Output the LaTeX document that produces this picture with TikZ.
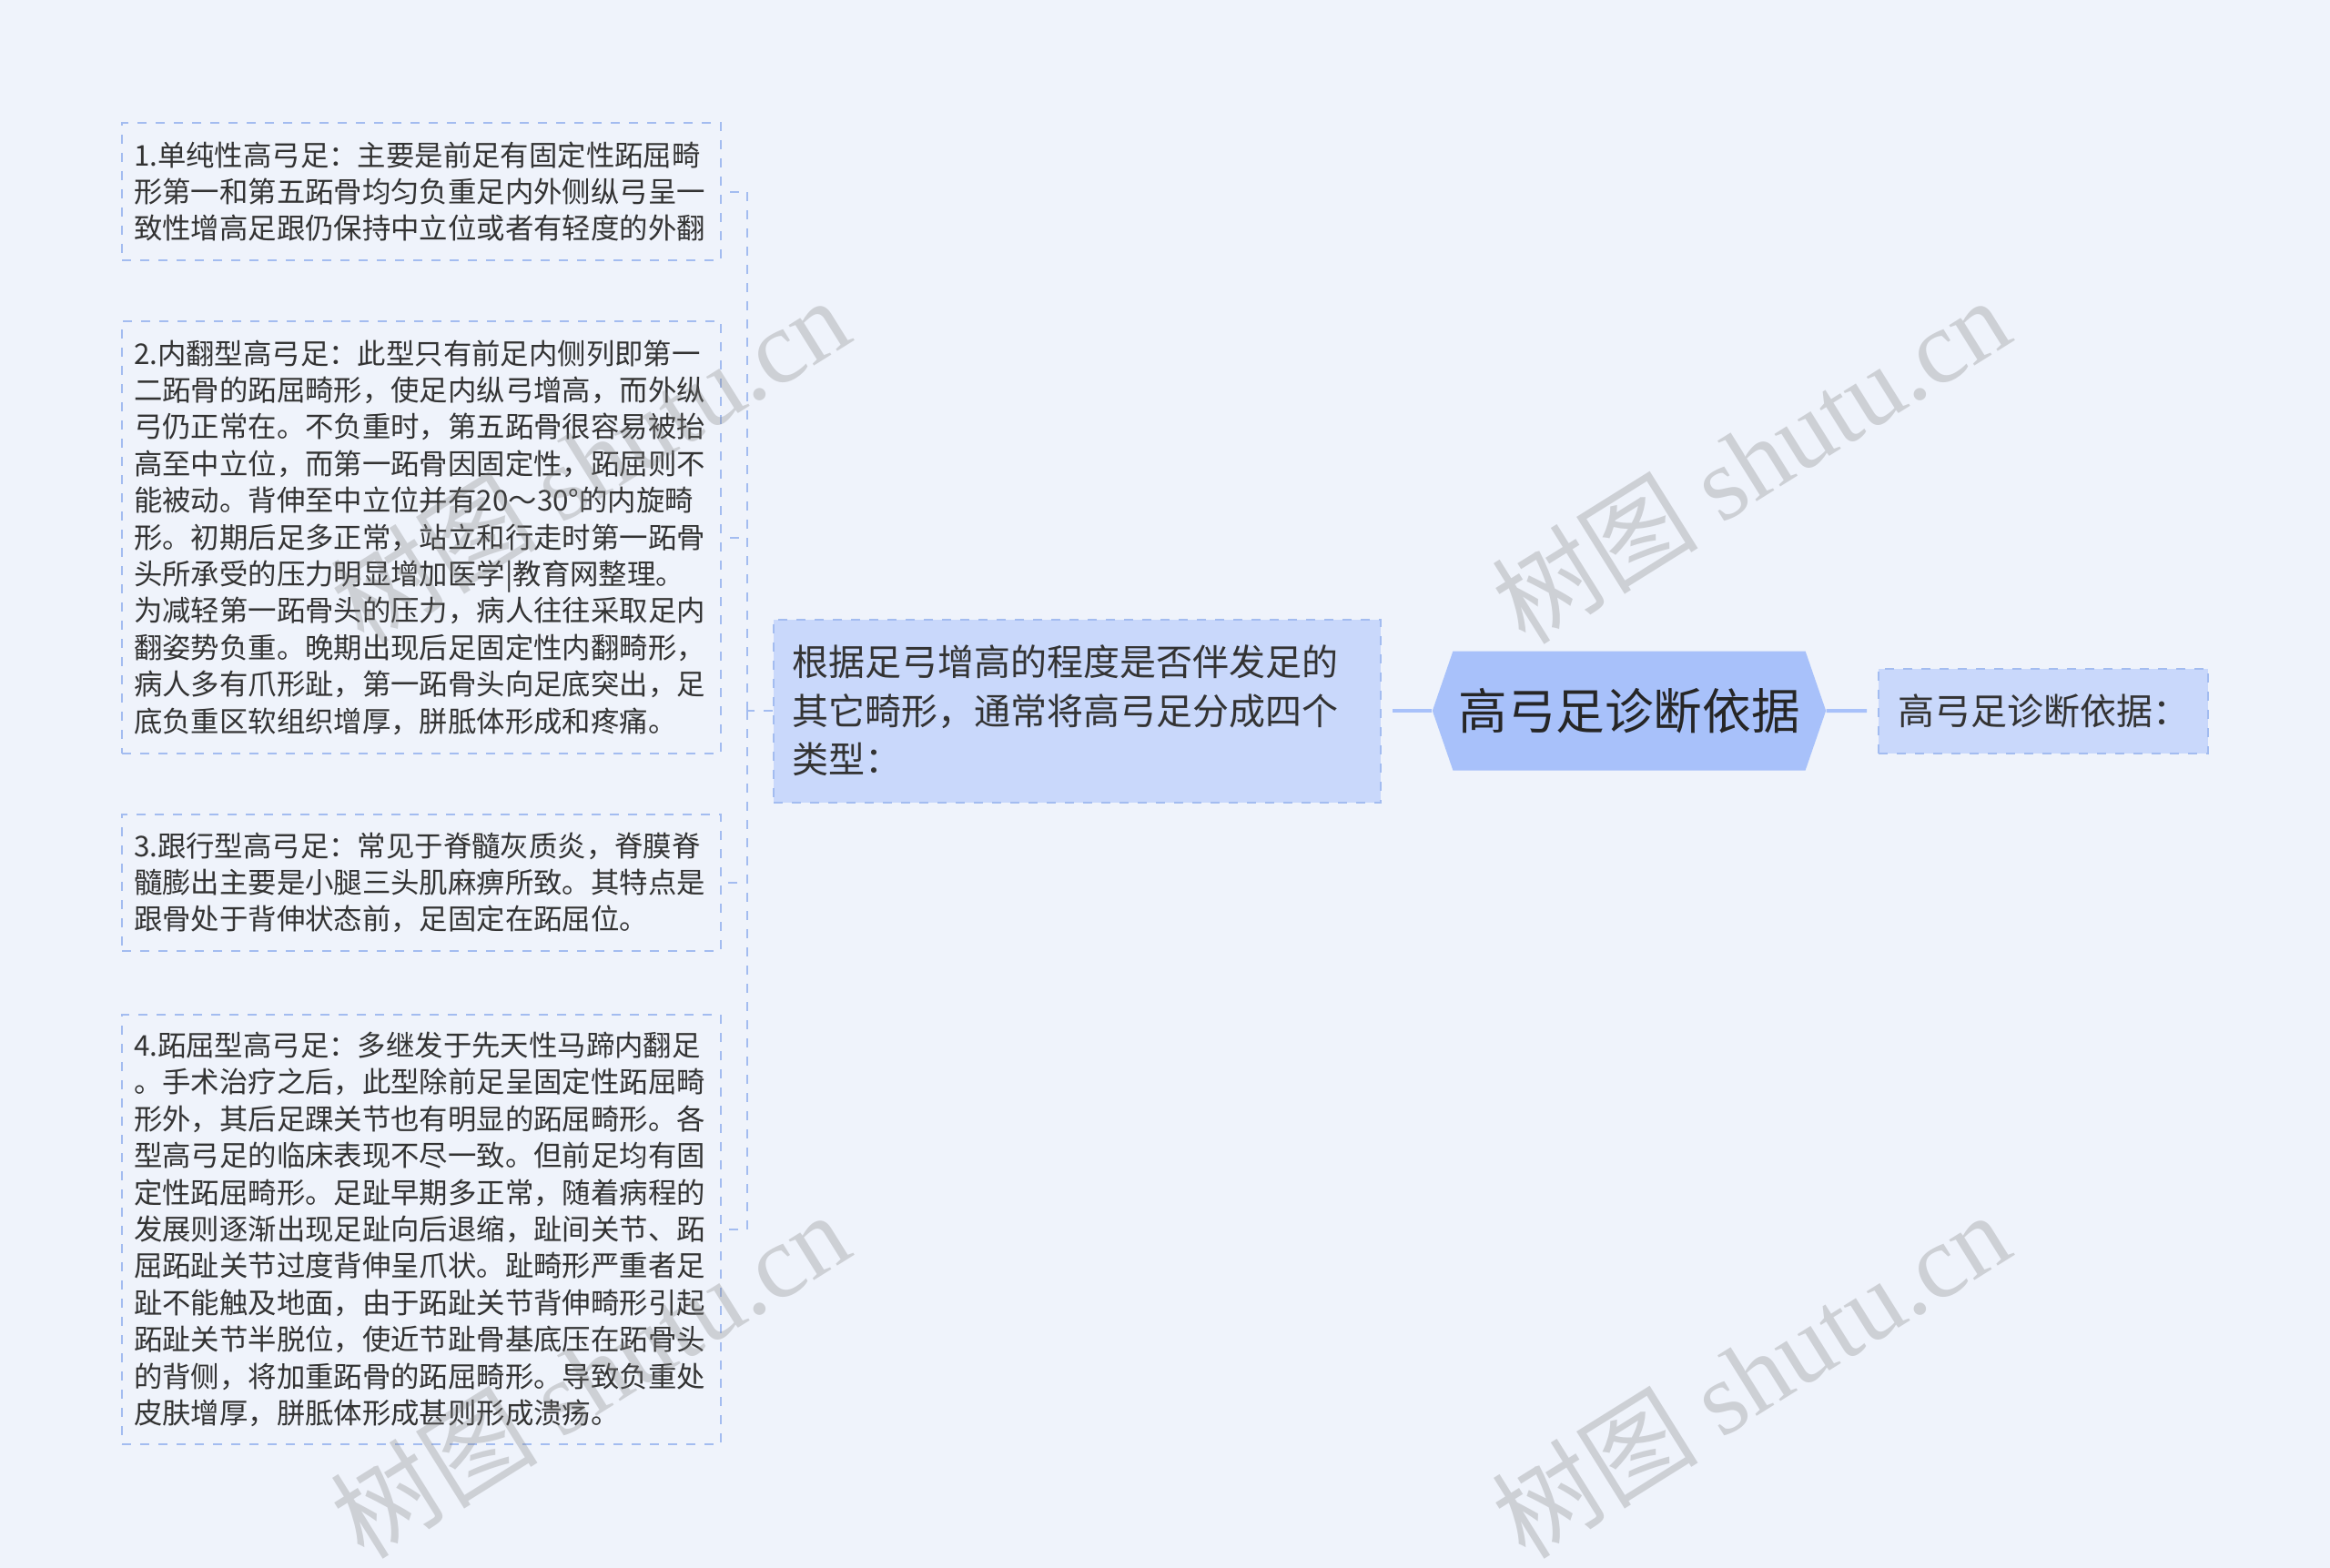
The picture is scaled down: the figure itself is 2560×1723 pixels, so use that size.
\documentclass[tikz,border=0pt]{standalone}
\usepackage{fontspec}
\setmainfont{Noto Sans CJK SC}
\newfontfamily\wmfont{Liberation Serif}
\usetikzlibrary{shapes.symbols,positioning}
\definecolor{bgblue}{HTML}{EFF3FB}
\definecolor{rootblue}{HTML}{A8C1FA}
\definecolor{boxblue}{HTML}{C9D8FB}
\definecolor{lineblue}{HTML}{A3BCF0}
\definecolor{textgray}{HTML}{333333}

\begin{document}
\begin{tikzpicture}[x=0.5pt, y=-0.5pt,
        leaf/.style={draw=lineblue, line width=1pt, dash pattern=on 5pt off 5pt, text=textgray, align=left,
            text width=316pt, inner xsep=6.5pt, inner ysep=0pt, font=\fontsize{15.7pt}{20.2pt}\selectfont},
        typebox/.style={draw=lineblue, line width=1pt, dash pattern=on 5pt off 5pt, fill=boxblue, text=textgray, align=left,
            text width=313.5pt, inner xsep=10pt, inner ysep=0pt, minimum height=100.5pt, font=\fontsize{20pt}{26.8pt}\selectfont},
        basisbox/.style={draw=lineblue, line width=1pt, dash pattern=on 5pt off 5pt, fill=boxblue, text=textgray,
            minimum width=181pt, minimum height=46.5pt, inner xsep=10.5pt, font=\fontsize{20pt}{24pt}\selectfont},
        root/.style={signal, signal to=west and east, signal pointer angle=142, fill=rootblue, text=black!85,
            minimum height=65.5pt, inner xsep=3pt, font=\fontsize{26.8pt}{32pt}\selectfont},
        link/.style={draw=lineblue, line width=1pt, dash pattern=on 5pt off 5pt},
        trunk/.style={draw=rootblue, line width=2pt},
        watermark/.style={text=gray, text opacity=0.3, rotate=32, font=\fontsize{57pt}{64pt}\selectfont}]
    \path[use as bounding box, fill=bgblue] (0,0) rectangle (2560,1723);

    \node (0) [root] at (1790,781) {高弓足诊断依据};
    \node (types) [typebox] at (1183.5,781) {根据足弓增高的程度是否伴发足的\\其它畸形，通常将高弓足分成四个\\类型：};
    \node (basis) [basisbox] at (2245,781) {高弓足诊断依据：};

    \node (1) [leaf, minimum height=75.5pt] at (463,210.5) {1.单纯性高弓足：主要是前足有固定性跖屈畸\\形第一和第五跖骨均匀负重足内外侧纵弓呈一\\致性增高足跟仍保持中立位或者有轻度的外翻};
    \node (2) [leaf, minimum height=237.5pt] at (463,590.5) {2.内翻型高弓足：此型只有前足内侧列即第一\\
        二跖骨的跖屈畸形，使足内纵弓增高，而外纵\\
        弓仍正常在。不负重时，第五跖骨很容易被抬\\
        高至中立位，而第一跖骨因固定性，跖屈则不\\
        能被动。背伸至中立位并有20～30°的内旋畸\\
        形。初期后足多正常，站立和行走时第一跖骨\\
        头所承受的压力明显增加医学|教育网整理。\\
        为减轻第一跖骨头的压力，病人往往采取足内\\
        翻姿势负重。晚期出现后足固定性内翻畸形，\\
        病人多有爪形趾，第一跖骨头向足底突出，足\\
        底负重区软组织增厚，胼胝体形成和疼痛。};
    \node (3) [leaf, minimum height=75pt] at (463,970) {3.跟行型高弓足：常见于脊髓灰质炎，脊膜脊\\
        髓膨出主要是小腿三头肌麻痹所致。其特点是\\
        跟骨处于背伸状态前，足固定在跖屈位。};
    \node (4) [leaf, minimum height=236pt] at (463,1351) {4.跖屈型高弓足：多继发于先天性马蹄内翻足\\
        。手术治疗之后，此型除前足呈固定性跖屈畸\\
        形外，其后足踝关节也有明显的跖屈畸形。各\\
        型高弓足的临床表现不尽一致。但前足均有固\\
        定性跖屈畸形。足趾早期多正常，随着病程的\\
        发展则逐渐出现足趾向后退缩，趾间关节、跖\\
        屈跖趾关节过度背伸呈爪状。趾畸形严重者足\\
        趾不能触及地面，由于跖趾关节背伸畸形引起\\
        跖趾关节半脱位，使近节趾骨基底压在跖骨头\\
        的背侧，将加重跖骨的跖屈畸形。导致负重处\\
        皮肤增厚，胼胝体形成甚则形成溃疡。};

    \coordinate (fork) at (821,781);
    \path [trunk, shorten >=6pt] (0) edge (types)
                                 (0) edge (basis);
    \draw [link] (types.west) -- (fork);
    \foreach \n in {1,2,3,4}
        \draw [link] (fork) |- ([xshift=3.5pt]\n.east);

    \node [watermark] at (648,505) {树图 {\wmfont shutu.cn}};
    \node [watermark] at (1923,505) {树图 {\wmfont shutu.cn}};
    \node [watermark] at (648,1510) {树图 {\wmfont shutu.cn}};
    \node [watermark] at (1923,1510) {树图 {\wmfont shutu.cn}};
\end{tikzpicture}
\end{document}
